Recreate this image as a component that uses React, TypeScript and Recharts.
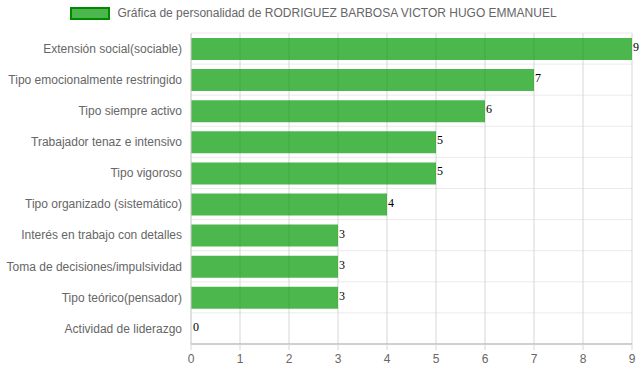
import React from "react";
import { BarChart, Bar, XAxis, YAxis, CartesianGrid, LabelList, Cell } from "recharts";

const categories = [
  "Extensión social(sociable)",
  "Tipo emocionalmente restringido",
  "Tipo siempre activo",
  "Trabajador tenaz e intensivo",
  "Tipo vigoroso",
  "Tipo organizado (sistemático)",
  "Interés en trabajo con detalles",
  "Toma de decisiones/impulsividad",
  "Tipo teórico(pensador)",
  "Actividad de liderazgo",
];
const values = [9, 7, 6, 5, 5, 4, 3, 3, 3, 0];
const xTicks = [0, 1, 2, 3, 4, 5, 6, 7, 8, 9];
const seriesName = "Gráfica de personalidad de RODRIGUEZ BARBOSA VICTOR HUGO EMMANUEL";

const data = categories.map((c, i) => ({ name: c, value: values[i] }));

const FONT = "'Liberation Sans', Arial, Helvetica, sans-serif";
const BAR_FILL = "rgba(0,153,0,0.7)";

const ValueLabel = (props: any) => {
  const { x, y, width, height, value } = props;
  return (
    <text
      x={x + width + 1}
      y={y + height / 2 + 2}
      fontFamily="'Liberation Serif', 'Times New Roman', serif"
      fontSize={12}
      fill="#000"
    >
      {value}
    </text>
  );
};

const YTick = (props: any) => {
  const { x, y, payload } = props;
  return (
    <text x={x} y={y} dy="0.355em" textAnchor="end" fill="#666" fontSize={12} fontFamily={FONT}>
      {payload.value}
    </text>
  );
};

export default function App() {
  return (
    <div style={{ position: "absolute", left: 0, top: 0, width: 639, height: 372, background: "#fff" }}>
      <div
        style={{
          position: "absolute",
          left: 0,
          top: 0,
          width: 639,
          height: 28,
          display: "flex",
          justifyContent: "center",
          alignItems: "flex-start",
          fontFamily: FONT,
          fontSize: 12,
          color: "#666",
          zIndex: 2,
        }}
      >
        <div style={{ display: "flex", alignItems: "center", marginTop: 6, marginLeft: -12 }}>
          <span
            style={{
              display: "inline-block",
              width: 36,
              height: 9,
              background: BAR_FILL,
              border: "2px solid #008a00",
              marginRight: 7,
            }}
          />
          <span>{seriesName}</span>
        </div>
      </div>
      <BarChart
        width={639}
        height={372}
        data={data}
        layout="vertical"
        margin={{ top: 33, right: 7, bottom: 0, left: 0 }}
        barCategoryGap={0}
      >
        <CartesianGrid
          vertical={false}
          stroke="#ebebeb"
          horizontalCoordinatesGenerator={(p: any) => {
            const o = p.offset;
            const arr: number[] = [];
            for (let i = 0; i <= categories.length; i++) arr.push(o.top + (i * o.height) / categories.length);
            return arr;
          }}
        />
        <CartesianGrid horizontal={false} stroke="#d6d6d6" />
        <XAxis
          type="number"
          domain={[0, 9]}
          ticks={xTicks}
          interval={0}
          height={28}
          tickSize={6}
          tickMargin={4}
          tickLine={{ stroke: "#d6d6d6" }}
          axisLine={{ stroke: "#aaa" }}
          tick={{ fill: "#666", fontSize: 12, fontFamily: FONT }}
        />
        <YAxis
          type="category"
          dataKey="name"
          width={191}
          interval={0}
          tickSize={0}
          tickMargin={9}
          tickLine={false}
          axisLine={{ stroke: "#d6d6d6" }}
          tick={YTick}
        />
        <Bar dataKey="value" fill={BAR_FILL} barSize={22} minPointSize={1} isAnimationActive={false}>
          {data.map((d, i) => (
            <Cell key={i} fill={d.value === 0 ? "transparent" : BAR_FILL} />
          ))}
          <LabelList dataKey="value" content={ValueLabel} />
        </Bar>
      </BarChart>
    </div>
  );
}
